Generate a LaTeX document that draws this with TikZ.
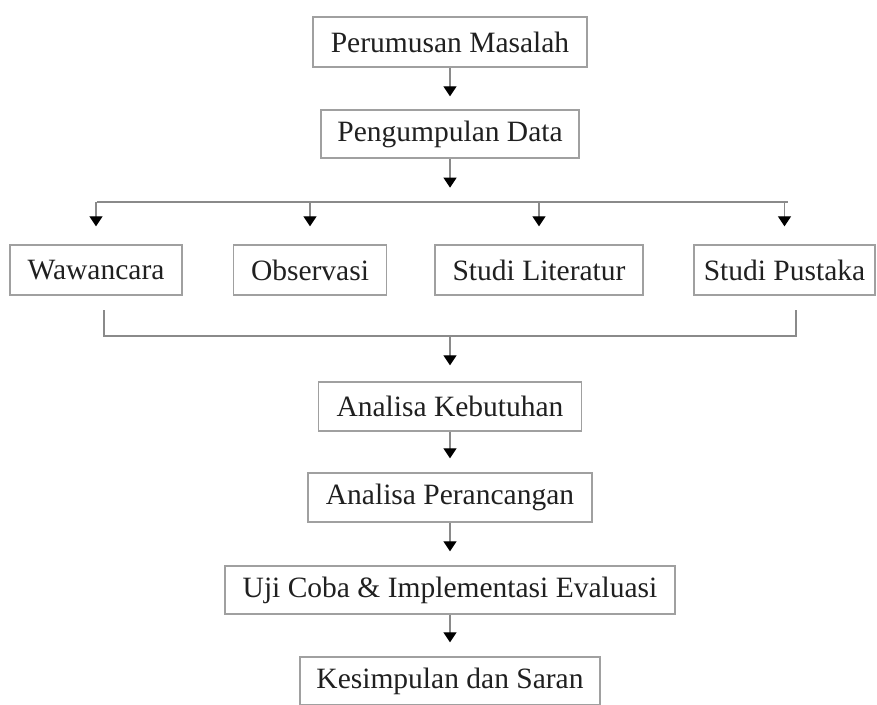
\documentclass[tikz,border=0pt]{standalone}
\usepackage{fontspec}
\setmainfont{Liberation Serif}
\usetikzlibrary{arrows.meta,calc}
\definecolor{boxgray}{HTML}{A0A0A0}
\definecolor{linegray}{HTML}{8A8A8A}
\definecolor{txt}{HTML}{202020}
\tikzset{
  stepbox/.style={draw=boxgray, line width=1.3pt, fill=white, text=txt,
    font=\fontsize{29.5}{31}\selectfont, inner sep=0pt, anchor=center},
  conn/.style={draw=linegray, line width=1.2pt},
  arr/.style={conn, -{Triangle[length=10pt,width=13pt,color=black]}},
}
\begin{document}
\begin{tikzpicture}[x=1pt,y=-1pt]
\useasboundingbox (0,0) rectangle (877,704);
% main nodes
\node[stepbox, minimum width=274pt, minimum height=50pt] (pm) at (450,42) {Perumusan Masalah};
\node[stepbox, minimum width=258pt, minimum height=48pt] (pd) at (450,134) {Pengumpulan Data};
\node[stepbox, minimum width=172pt, minimum height=50pt] (wa) at (96,270) {Wawancara};
\node[stepbox, minimum width=153pt, minimum height=50pt] (ob) at (310,270) {Observasi};
\node[stepbox, minimum width=208pt, minimum height=50pt] (sl) at (539,270) {Studi Literatur};
\node[stepbox, minimum width=181pt, minimum height=50pt] (sp) at (784.5,270) {Studi Pustaka};
\node[stepbox, minimum width=263pt, minimum height=49pt] (ak) at (450,406.5) {Analisa Kebutuhan};
\node[stepbox, minimum width=284pt, minimum height=49pt] (pp) at (450,497.5) {Analisa Perancangan};
\node[stepbox, minimum width=450pt, minimum height=48pt] (uc) at (450,590) {Uji Coba \& Implementasi Evaluasi};
\node[stepbox, minimum width=300pt, minimum height=48pt] (ks) at (450,681) {Kesimpulan dan Saran};
% bus coordinates
\coordinate (busL) at (97,202);
\coordinate (busR) at (788,202);
\coordinate (mL) at (104,310);
\coordinate (mLb) at (104,336);
\coordinate (mR) at (796,310);
\coordinate (mRb) at (796,336);
\coordinate (mC) at (450,336);
% connectors
\draw[arr, shorten >=13pt] (pm) -- (pd);
\draw[arr] (pd.south) -- ++(0,29);
\draw[conn] (busL) -- (busR);
\draw[arr, shorten >=18pt] (wa.north |- busL) -- (wa);
\draw[arr, shorten >=18pt] (ob.north |- busL) -- (ob);
\draw[arr, shorten >=18pt] (sl.north |- busL) -- (sl);
\draw[arr, shorten >=18pt] (sp.north |- busL) -- (sp);
\draw[conn] (mL) -- (mLb) -- (mRb) -- (mR);
\draw[arr, shorten >=16pt] (mC) -- (ak);
\draw[arr, shorten >=14pt] (ak) -- (pp);
\draw[arr, shorten >=14pt] (pp) -- (uc);
\draw[arr, shorten >=14pt] (uc) -- (ks);
\end{tikzpicture}
\end{document}
